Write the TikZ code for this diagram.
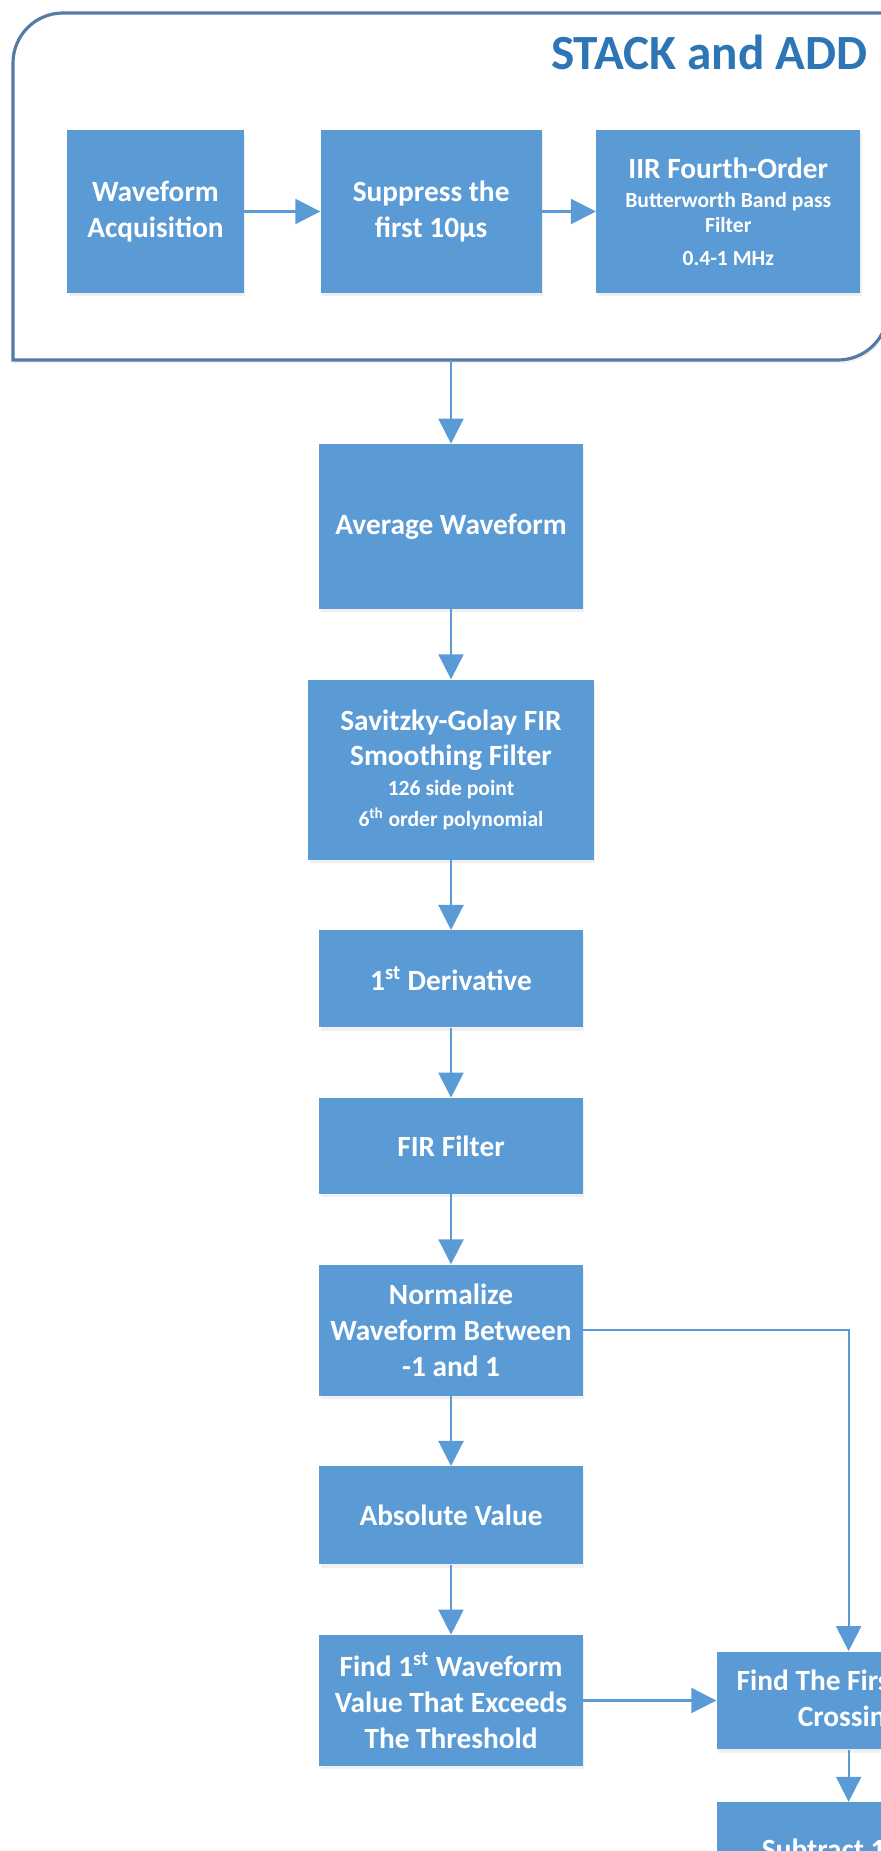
\documentclass[tikz,border=0pt]{standalone}
\usepackage{fontspec}
\setmainfont{Carlito}
\usepackage{tikz}
\usetikzlibrary{arrows.meta, positioning, shadows}
\definecolor{officeblue}{RGB}{91,155,213}
\definecolor{titleblue}{RGB}{46,117,182}
\definecolor{frameblue}{RGB}{84,122,166}
\newcommand{\boxmain}{\fontsize{16.7}{20.3}\selectfont\bfseries}
\newcommand{\boxsmall}{\fontsize{12.3}{14}\selectfont\bfseries}
\tikzset{
>={Triangle[width=0.5cm, length=0.5cm]}, % big filled heads, as in the office drawing
node distance=1.4cm, % gap between the boxes of the main column
flow/.style={->, line width=1.2pt, color=officeblue}, % connectors
block/.style={rectangle, fill=officeblue, text=white, font=\boxmain, align=center, inner sep=0pt, minimum width=5.28cm, drop shadow={opacity=0.12, shadow xshift=0.03cm, shadow yshift=-0.07cm}}, % blue process boxes
stackframe/.style={draw=frameblue, line width=1.8pt, fill=white, drop shadow={opacity=0.1, shadow xshift=0.03cm, shadow yshift=-0.07cm}}, % group outline
stacktitle/.style={text=titleblue, font=\fontsize{28}{33}\selectfont\bfseries, inner sep=0pt}, % group title
}

\begin{document}
\begin{tikzpicture}[x=0.02cm, y=-0.02cm]
    \useasboundingbox (0,0) rectangle (881,1851);
    \clip (0,0) rectangle (881,1851);

    % stack and add group
    \draw[stackframe] (13,360) -- (13,200) [rounded corners=1cm] -- (13,13) -- (300,13) [sharp corners] -- (888,13) -- (888,200) [rounded corners=1cm] -- (888,360) -- (600,360) [sharp corners] -- cycle;
    \node[stacktitle, anchor=base east] (ttl) at (868,70) {STACK and ADD};
    \coordinate (stackbot) at (451,360);

    \node[block, minimum width=3.54cm, minimum height=3.26cm] (acq) at (155.5,211.5) {Waveform\\Acquisition};
    \node[block, minimum width=4.42cm, minimum height=3.26cm, right=1.52cm of acq] (sup) {Suppress the\\first 10µs};
    \node[block, minimum height=3.26cm, right=1.08cm of sup] (iir) {IIR Fourth-Order\\[-3.6pt]\boxsmall Butterworth Band pass\\[-6.2pt]\boxsmall Filter\\[-1.4pt]\boxsmall 0.4-1 MHz};

    % main column
    \node[block, minimum height=3.3cm] (avg) at (451,526.5) {Average Waveform};
    \node[block, minimum width=5.72cm, minimum height=3.6cm, below=of avg] (sav) {Savitzky-Golay FIR\\Smoothing Filter\\[-3.6pt]\boxsmall 126 side point\\[-2.7pt]\boxsmall 6\textsuperscript{th} order polynomial};
    \node[block, minimum height=1.94cm, below=of sav] (der) {1\textsuperscript{st} Derivative};
    \node[block, minimum height=1.92cm, below=of der] (fir) {FIR Filter};
    \node[block, minimum height=2.62cm, below=of fir] (norm) {Normalize\\Waveform Between\\-1 and 1};
    \node[block, minimum height=1.96cm, below=of norm] (absv) {Absolute Value};
    \node[block, minimum height=2.62cm, below=of absv] (find1) {Find 1\textsuperscript{st} Waveform\\Value That Exceeds\\The Threshold};

    % right column, cut off by the page edge
    \node[block, minimum height=1.96cm, right=2.66cm of find1] (zero) {Find The Firs\phantom{t Zero}\\Crossin\phantom{g}};
    \node[block, minimum height=1.96cm, below=1.04cm of zero] (sub) {Subtract 1\phantom{0 µs}};

    \path (acq) edge[flow] (sup)
    (sup) edge[flow] (iir)
    (stackbot) edge[flow] (avg)
    (avg) edge[flow] (sav)
    (sav) edge[flow] (der)
    (der) edge[flow] (fir)
    (fir) edge[flow] (norm)
    (norm) edge[flow] (absv)
    (absv) edge[flow] (find1)
    (find1) edge[flow] (zero)
    (zero) edge[flow] (sub);
    \draw[flow] (norm.east) -| (zero.north);
\end{tikzpicture}
\end{document}
